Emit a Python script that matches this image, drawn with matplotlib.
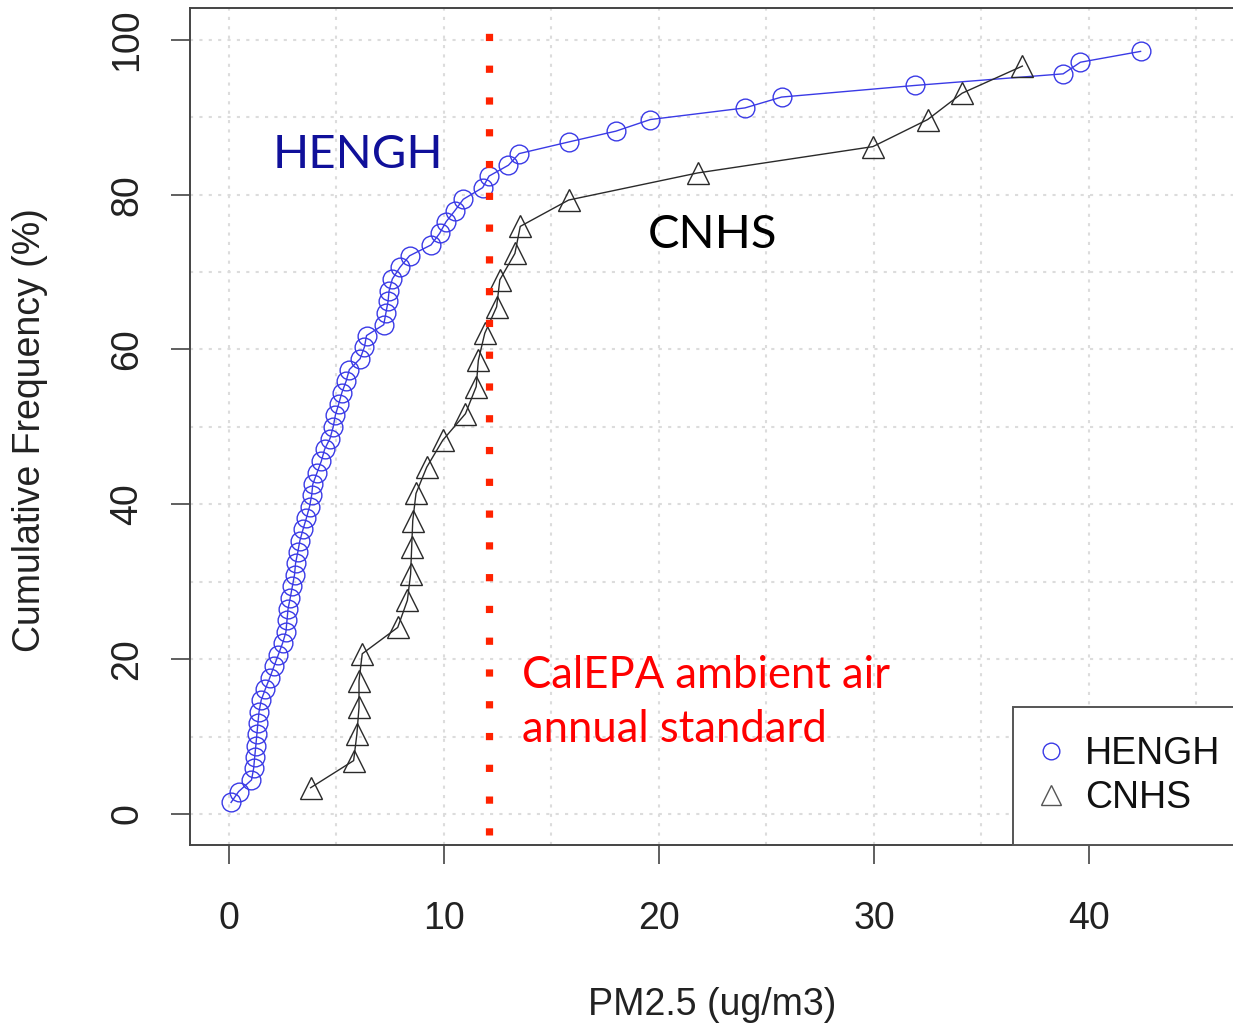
import matplotlib
matplotlib.use("Agg")
import matplotlib.pyplot as plt
from matplotlib.lines import Line2D

# Set data
hengh_x = [0.1, 0.45, 1.05, 1.15, 1.2, 1.25, 1.3, 1.35, 1.4, 1.5,
           1.7, 1.9, 2.1, 2.3, 2.5, 2.65, 2.7, 2.75, 2.85, 2.95,
           3.05, 3.1, 3.2, 3.3, 3.45, 3.6, 3.75, 3.85, 3.9, 4.1,
           4.3, 4.45, 4.7, 4.85, 4.95, 5.1, 5.25, 5.45, 5.6, 6.1,
           6.3, 6.4, 7.2, 7.3, 7.4, 7.45, 7.6, 7.95, 8.4, 9.4,
           9.8, 10.1, 10.5, 10.9, 11.8, 12.1, 13.0, 13.5, 15.8, 18.0,
           19.6, 24.0, 25.7, 31.9, 38.8, 39.6, 42.4]
hengh_y = [1.5, 2.9, 4.4, 5.9, 7.4, 8.8, 10.3, 11.8, 13.2, 14.7,
           16.2, 17.6, 19.1, 20.6, 22.1, 23.5, 25.0, 26.5, 27.9, 29.4,
           30.9, 32.4, 33.8, 35.3, 36.8, 38.2, 39.7, 41.2, 42.6, 44.1,
           45.6, 47.1, 48.5, 50.0, 51.5, 52.9, 54.4, 55.9, 57.4, 58.8,
           60.3, 61.8, 63.2, 64.7, 66.2, 67.6, 69.1, 70.6, 72.1, 73.5,
           75.0, 76.5, 77.9, 79.4, 80.9, 82.4, 83.8, 85.3, 86.8, 88.2,
           89.7, 91.2, 92.6, 94.1, 95.6, 97.1, 98.5]

cnhs_x = [3.8, 5.8, 5.95, 6.05, 6.05, 6.2, 7.85, 8.3, 8.45, 8.5,
          8.55, 8.7, 9.2, 9.95, 11.0, 11.5, 11.6, 11.9, 12.45, 12.6,
          13.3, 13.55, 15.8, 21.8, 29.95, 32.5, 34.1, 36.9]
cnhs_y = [3.4, 6.9, 10.3, 13.8, 17.2, 20.7, 24.1, 27.6, 31.0, 34.5,
          37.9, 41.4, 44.8, 48.3, 51.7, 55.2, 58.6, 62.1, 65.5, 69.0,
          72.4, 75.9, 79.3, 82.8, 86.2, 89.7, 93.1, 96.6]

standard = 12.1
x_ticks = [0, 10, 20, 30, 40]
y_ticks = [0, 20, 40, 60, 80, 100]

blue = "#3a3ae6"
dark = "#2a2a2a"

plt.rcParams['font.family'] = ['Liberation Sans', 'DejaVu Sans']

fig = plt.figure(figsize=(12.33, 10.29), dpi=100)
ax = fig.add_axes([0.1541, 0.1788, 0.8686, 0.8134])

# grid (dotted, light grey)
ax.set_xticks(list(range(0, 50, 5)), minor=True)
ax.set_yticks(list(range(0, 110, 10)), minor=True)
ax.grid(True, which='both', color='#dcdcdc', linestyle=(0, (1.5, 3)), linewidth=1.5)
ax.set_axisbelow(True)

# the two cumulative curves
ax.plot(hengh_x, hengh_y, color=blue, linewidth=1, marker='o', markersize=13.5,
        markerfacecolor='none', markeredgewidth=1, zorder=3)
ax.plot(cnhs_x, cnhs_y, color=dark, linewidth=1, marker='^', markersize=16,
        markerfacecolor='none', markeredgewidth=1, zorder=3)

# CalEPA standard
ax.axvline(standard, ymin=0.012, ymax=0.970, color='#ff2200', linewidth=5.2,
           linestyle=(0, (1, 3.4)), dash_capstyle='butt', zorder=4)

ax.set_xlim(-1.81, 48)
ax.set_ylim(-4.0, 104.1)
ax.set_xticks(x_ticks)
ax.set_yticks(y_ticks)
ax.set_xticklabels([str(t) for t in x_ticks])
ax.set_yticklabels([str(t) for t in y_ticks], rotation=90, va='center')
ax.tick_params(which='major', labelsize=27, length=14, width=1.2, color='#444444',
               labelcolor='#222222')
ax.tick_params(axis='x', pad=26)
ax.tick_params(axis='y', pad=18)
ax.tick_params(which='minor', length=0)
for s in ax.spines.values():
    s.set_color('#444444')
    s.set_linewidth(1.4)

ax.set_xlabel("PM2.5 (ug/m3)", fontsize=27, color='#222222', va='center')
ax.xaxis.set_label_coords(0.488, -0.191)
ax.set_ylabel("Cumulative Frequency (%)", fontsize=27, color='#222222', va='center')
ax.yaxis.set_label_coords(-0.149, 0.496)

# annotations
ax.text(6.0, 85.1, "HENGH", color='#10109a', fontsize=34, family='Lato',
        ha='center', va='center')
ax.text(22.5, 74.8, "CNHS", color='black', fontsize=34, family='Lato',
        ha='center', va='center')
ax.text(13.63, 14.4, "CalEPA ambient air\nannual standard", color='#ff0000',
        fontsize=31.4, family='Lato', ha='left', va='center', linespacing=1.38)

handles = [Line2D([], [], linestyle='none', marker='o', markersize=12,
                  markerfacecolor='none', markeredgecolor=blue, markeredgewidth=1),
           Line2D([], [], linestyle='none', marker='^', markersize=15,
                  markerfacecolor='none', markeredgecolor='#555555', markeredgewidth=1)]
leg = ax.legend(handles, ["HENGH", "CNHS"], loc='lower left',
                bbox_to_anchor=(0.768, 0.0), borderaxespad=0, fontsize=27,
                fancybox=False, framealpha=1, edgecolor='#555555',
                borderpad=0.78, handlelength=0.5, handletextpad=0.65,
                labelspacing=0.2)
leg.get_frame().set_linewidth(1.4)
for t in leg.get_texts():
    t.set_color('#111111')

fig.savefig("out.png", dpi=100)
